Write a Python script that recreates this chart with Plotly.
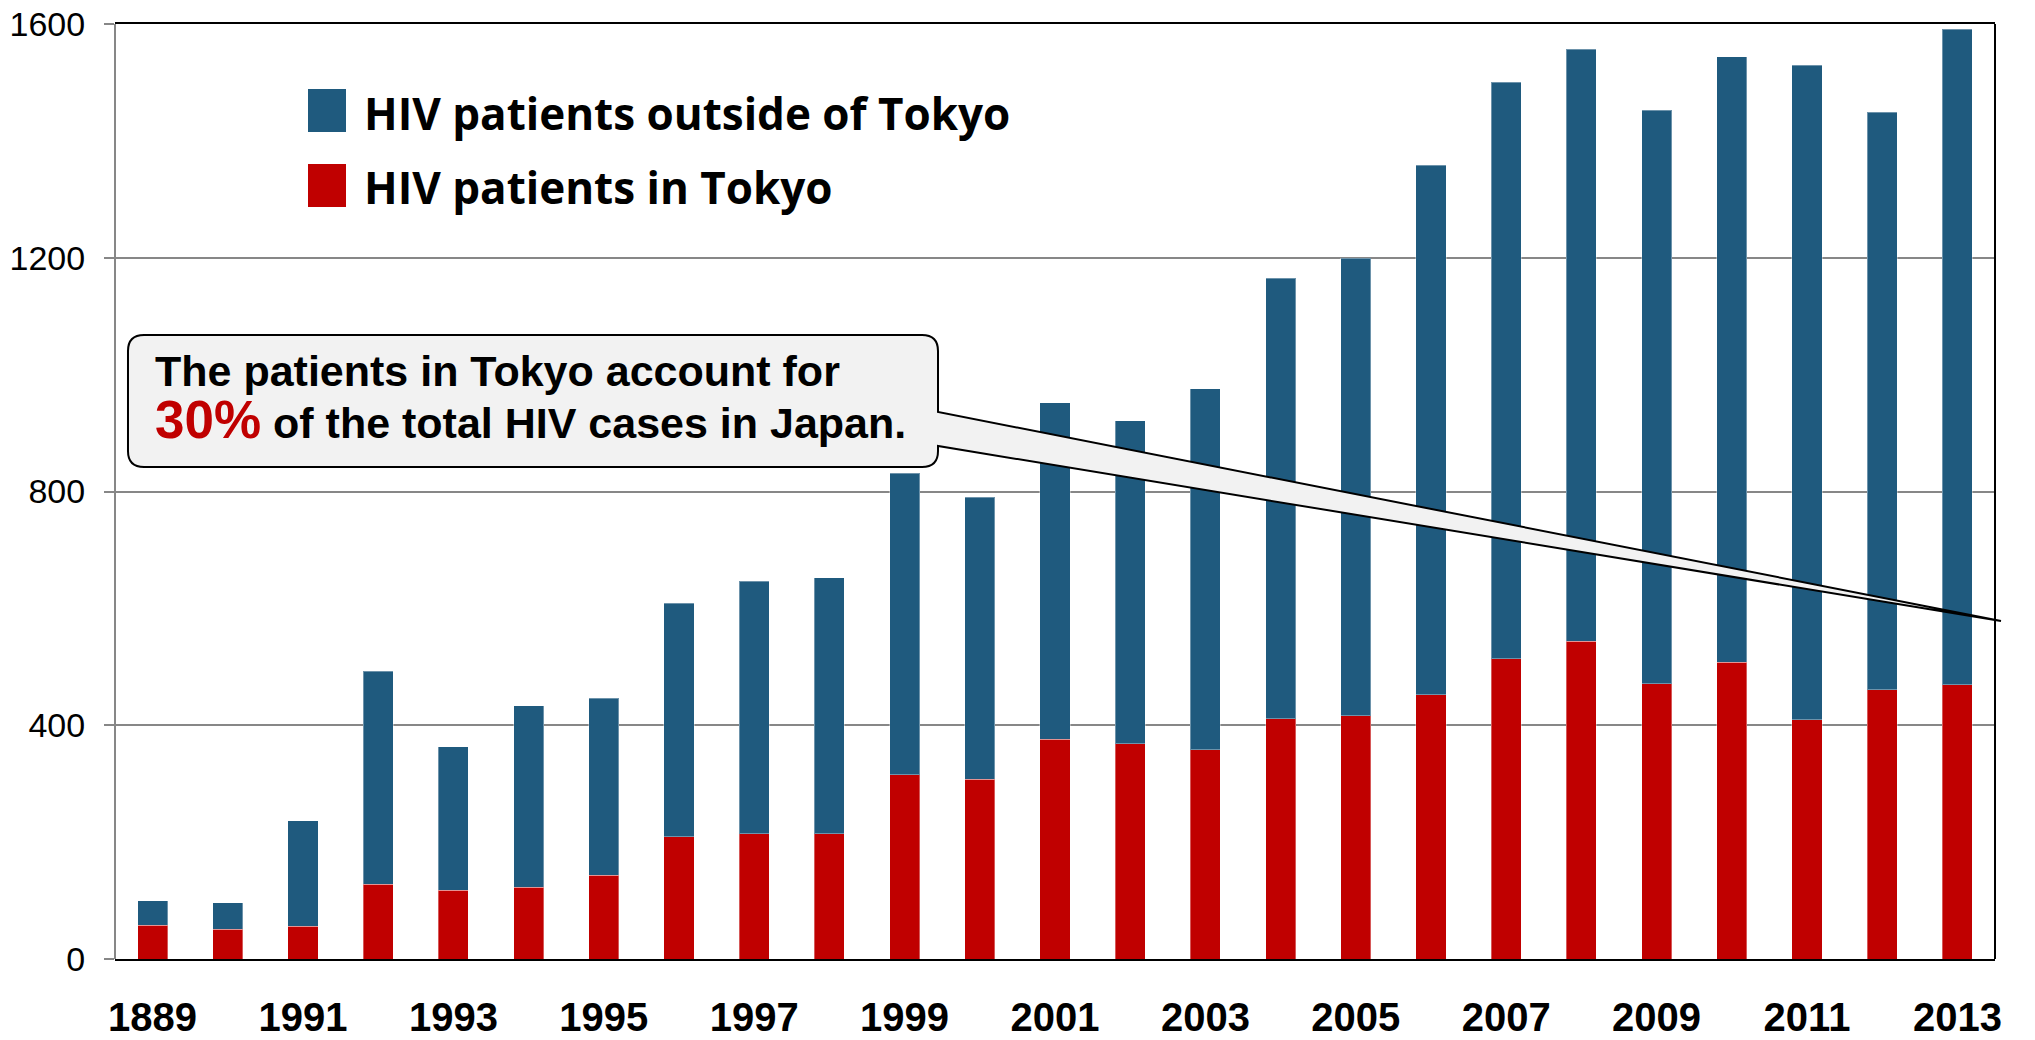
import plotly.graph_objects as go

# ---------------- data ----------------
years = list(range(1989, 2014))
tokyo = [58, 51, 56, 128, 118, 123, 143, 209, 214, 214, 315, 308, 376,
         368, 358, 411, 416, 452, 514, 544, 471, 508, 409, 461, 469]
outside = [42, 45, 181, 364, 245, 310, 303, 400, 432, 438, 516, 482, 576,
           553, 618, 754, 783, 906, 986, 1013, 981, 1036, 1120, 988, 1122]
tick_years = list(range(1989, 2014, 2))
tick_labels = ["1889", "1991", "1993", "1995", "1997", "1999", "2001",
               "2003", "2005", "2007", "2009", "2011", "2013"]
y_ticks = [0, 400, 800, 1200, 1600]
legend_names = ["HIV patients outside of Tokyo", "HIV patients in Tokyo"]

BLUE = "#1F5A7E"
RED = "#C00000"

# ---------------- geometry (screen pixels) ----------------
OFF = 8                      # page body margin
W, H = 2035 - OFF, 1040 - OFF
L, R, T, B = 115, 1995, 24, 959


def px(x):
    return (x - L) / (R - L)


def py(y):
    return (B - y) / (B - T)


fig = go.Figure()
fig.add_trace(go.Bar(x=years, y=tokyo, name=legend_names[1],
                     marker=dict(color=RED, line=dict(color="rgba(255,255,255,0.35)", width=1)),
                     showlegend=False))
fig.add_trace(go.Bar(x=years, y=outside, name=legend_names[0],
                     marker=dict(color=BLUE, line=dict(color="rgba(255,255,255,0.35)", width=1)),
                     showlegend=False))

shapes = []
annotations = []

# plot frame: left gray, right black
shapes.append(dict(type="line", xref="paper", yref="paper", x0=0, x1=0, y0=0, y1=1,
                   line=dict(color="#878787", width=2), layer="above"))
shapes.append(dict(type="line", xref="paper", yref="paper", x0=1, x1=1, y0=0, y1=1,
                   line=dict(color="#000000", width=2), layer="above"))

# legend (manual)
leg_items = [(legend_names[0], BLUE, 89, 132, 113), (legend_names[1], RED, 164, 207, 187)]
for name, col, y0, y1, yc in leg_items:
    shapes.append(dict(type="rect", xref="paper", yref="paper",
                       x0=px(308), x1=px(346), y0=py(y1), y1=py(y0),
                       fillcolor=col, line=dict(width=0)))
    annotations.append(dict(xref="paper", yref="paper", x=px(362), y=py(yc),
                            xanchor="left", yanchor="middle", showarrow=False,
                            text="<b>%s</b>" % name,
                            font=dict(family="Open Sans", size=44, color="#000")))

# callout box with pointer (single path)
bx0, bx1, by0, by1, r = 128, 938, 335, 467, 16
w_top, w_bot = 412, 446
tip = (2001, 621)


def P(x, y):
    return "%.5f,%.5f" % (px(x), py(y))


path = ("M " + P(bx0 + r, by0) +
        " L " + P(bx1 - r, by0) +
        " Q " + P(bx1, by0) + " " + P(bx1, by0 + r) +
        " L " + P(bx1, w_top) +
        " L " + P(*tip) +
        " L " + P(bx1, w_bot) +
        " L " + P(bx1, by1 - r) +
        " Q " + P(bx1, by1) + " " + P(bx1 - r, by1) +
        " L " + P(bx0 + r, by1) +
        " Q " + P(bx0, by1) + " " + P(bx0, by1 - r) +
        " L " + P(bx0, by0 + r) +
        " Q " + P(bx0, by0) + " " + P(bx0 + r, by0) + " Z")
shapes.append(dict(type="path", xref="paper", yref="paper", path=path,
                   fillcolor="#F2F2F2", line=dict(color="#000000", width=2), layer="above"))

annotations.append(dict(xref="paper", yref="paper", x=px(153), y=py(371),
                        xanchor="left", yanchor="middle", showarrow=False,
                        text="<b>The patients in Tokyo account for</b>",
                        font=dict(family="Liberation Sans, Arial", size=43, color="#000")))
annotations.append(dict(xref="paper", yref="paper", x=px(153), y=py(419),
                        xanchor="left", yanchor="middle", showarrow=False,
                        text="<b><span style='font-size:53px;color:#C00000'>30%</span> of the total HIV cases in Japan.</b>",
                        font=dict(family="Liberation Sans, Arial", size=43, color="#000")))

fig.update_layout(
    width=W, height=H,
    margin=dict(l=L - OFF, r=W - (R - OFF), t=T - OFF, b=H - (B - OFF), pad=0, autoexpand=False),
    paper_bgcolor="white", plot_bgcolor="white",
    barmode="stack", bargap=0.6,
    showlegend=False,
    shapes=shapes, annotations=annotations,
    xaxis=dict(range=[1988.5, 2013.5], tickmode="array", tickvals=tick_years,
               ticktext=tick_labels, showgrid=False, ticks="",
               showline=True, linecolor="#000", linewidth=2, mirror=True,
               tickfont=dict(family="Liberation Sans, Arial", size=40, color="#000", weight="bold"),
               ticklabelstandoff=22, zeroline=False, automargin=False,
               ticklabeloverflow="allow"),
    yaxis=dict(range=[0, 1600], tickmode="array", tickvals=y_ticks,
               showgrid=True, gridcolor="#878787", gridwidth=2,
               ticks="outside", ticklen=10, tickwidth=2, tickcolor="#878787",
               showline=False, zeroline=False, automargin=False,
               ticklabeloverflow="allow",
               tickfont=dict(family="Liberation Sans Narrow, Arial Narrow, Liberation Sans", size=34, color="#000"),
               ticklabelstandoff=12),
)

fig.write_html("out.html")
